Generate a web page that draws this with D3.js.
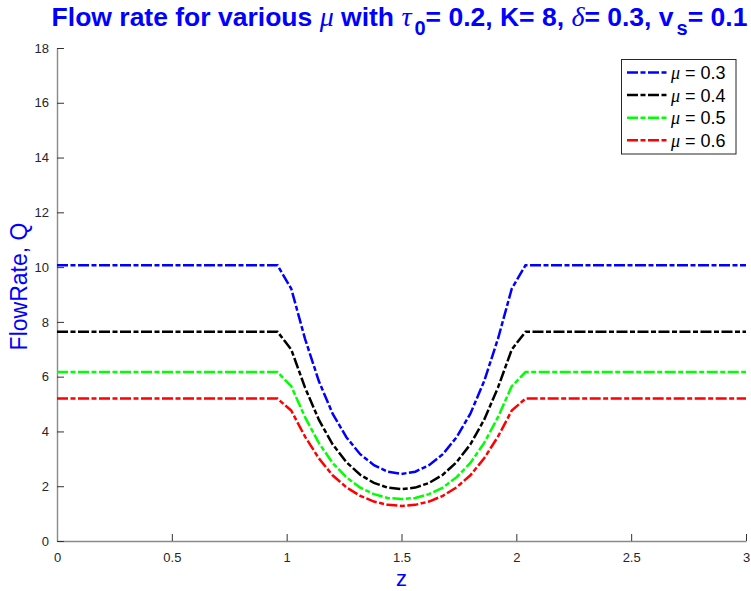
<!DOCTYPE html>
<html>
<head>
<meta charset="utf-8">
<script src="https://cdn.jsdelivr.net/npm/d3@7"></script>
<style>
  html, body { margin: 0; padding: 0; background: #fff; }
  svg { display: block; }
</style>
</head>
<body>
<svg id="chart" width="751" height="591"></svg>
<script>
// ---- data ----
const zValues = [0, 0.96, 1.02, 1.08, 1.14, 1.2, 1.26, 1.32, 1.38, 1.44, 1.5,
                 1.56, 1.62, 1.68, 1.74, 1.8, 1.86, 1.92, 1.98, 2.04, 3];
const qMu03 = [10.07, 10.07, 9.21, 7.38, 5.84, 4.65, 3.79, 3.17, 2.77, 2.53, 2.45,
               2.53, 2.77, 3.17, 3.79, 4.65, 5.84, 7.38, 9.21, 10.07, 10.07];
const qMu04 = [7.64, 7.64, 6.99, 5.60, 4.43, 3.53, 2.88, 2.42, 2.12, 1.95, 1.89,
               1.95, 2.12, 2.42, 2.88, 3.53, 4.43, 5.60, 6.99, 7.64, 7.64];
const qMu05 = [6.17, 6.17, 5.65, 4.52, 3.58, 2.85, 2.33, 1.95, 1.71, 1.57, 1.53,
               1.57, 1.71, 1.95, 2.33, 2.85, 3.58, 4.52, 5.65, 6.17, 6.17];
const qMu06 = [5.2, 5.2, 4.76, 3.81, 3.02, 2.40, 1.96, 1.65, 1.44, 1.32, 1.28,
               1.32, 1.44, 1.65, 1.96, 2.40, 3.02, 3.81, 4.76, 5.2, 5.2];
const muLabels = ["0.3", "0.4", "0.5", "0.6"];
const seriesColors = ["#0000ff", "#000000", "#00ff00", "#ff0000"];
const xTicks = [0, 0.5, 1, 1.5, 2, 2.5, 3];
const yTicks = [0, 2, 4, 6, 8, 10, 12, 14, 16, 18];

(function draw() {
const series = [qMu03, qMu04, qMu05, qMu06].map((q, i) => ({
  label: muLabels[i], color: seriesColors[i],
  points: zValues.map((z, j) => ({ z: z, q: q[j] }))
}));

// ---- layout ----
const svg = d3.select("#chart");
const mLeft = 57, mRight = 746, mTop = 48, mBottom = 541;
const x = d3.scaleLinear().domain([0, 3]).range([mLeft, mRight]);
const y = d3.scaleLinear().domain([0, 18]).range([mBottom, mTop]);
const dash = "11,2.5,5,2.5";
const sansFont = "'Liberation Sans', Arial, Helvetica, sans-serif";
const serifFont = "'Liberation Serif', 'DejaVu Serif', serif";

// axes
const xAxis = d3.axisBottom(x).tickValues(xTicks).tickSizeInner(-7).tickSizeOuter(0)
  .tickPadding(12).tickFormat(d3.format("~g"));
const yAxis = d3.axisLeft(y).tickValues(yTicks).tickSizeInner(-7).tickSizeOuter(0)
  .tickPadding(8).tickFormat(d3.format("~g"));

const gx = svg.append("g").attr("transform", `translate(0,${mBottom})`).call(xAxis);
const gy = svg.append("g").attr("transform", `translate(${mLeft},0)`).call(yAxis);
[gx, gy].forEach(g => {
  g.select(".domain").attr("stroke", "#8a8a8a").attr("stroke-width", 1.4);
  g.selectAll(".tick line").attr("stroke", "#333").attr("stroke-width", 1);
  g.selectAll(".tick text").attr("fill", "#262626")
    .style("font-family", sansFont).style("font-size", "13px");
});

// lines
const line = d3.line().x(d => x(d.z)).y(d => y(d.q));
svg.append("g").selectAll("path").data(series).join("path")
  .attr("d", d => line(d.points))
  .attr("fill", "none")
  .attr("stroke", d => d.color)
  .attr("stroke-width", 2.5)
  .attr("stroke-dasharray", dash);

// title
const title = svg.append("text").attr("x", (mLeft + mRight) / 2 - 2).attr("y", 26)
  .attr("text-anchor", "middle")
  .attr("fill", "#0000ff").style("font-family", sansFont)
  .style("font-size", "26.5px").style("font-weight", "bold");
const parts = [
  { t: "Flow rate for various " },
  { t: "μ", serif: true },
  { t: " with " },
  { t: "τ", serif: true },
  { t: "0", sub: true },
  { t: "= 0.2, K= 8, " },
  { t: "δ", serif: true },
  { t: "= 0.3, v" },
  { t: "s", sub: true },
  { t: "= 0.1" }
];
parts.forEach((p, i) => {
  const ts = title.append("tspan").text(p.t);
  if (p.serif) ts.style("font-family", serifFont).style("font-style", "italic")
    .style("font-weight", "normal").style("font-size", "28px");
  if (p.sub) ts.attr("dy", 9).attr("dx", 3).style("font-size", "20px");
  else if (i > 0 && parts[i - 1].sub) ts.attr("dy", -9);
});

// axis labels
svg.append("text").attr("x", (mLeft + mRight) / 2).attr("y", 586)
  .attr("text-anchor", "middle").attr("fill", "#0000ff")
  .style("font-family", sansFont).style("font-size", "22px").text("z");
svg.append("text")
  .attr("transform", `translate(27,${(mTop + mBottom) / 2 - 8}) rotate(-90)`)
  .attr("text-anchor", "middle").attr("fill", "#0000ff")
  .style("font-family", sansFont).style("font-size", "23px").text("FlowRate, Q");

// legend
const lg = svg.append("g");
lg.append("rect").attr("x", 621.5).attr("y", 59.5).attr("width", 114.5).attr("height", 94.5)
  .attr("fill", "#fff").attr("stroke", "#262626").attr("stroke-width", 1);
series.forEach((s, i) => {
  const cy = 72.5 + i * 22.6;
  lg.append("line").attr("x1", 627).attr("x2", 667).attr("y1", cy).attr("y2", cy)
    .attr("stroke", s.color).attr("stroke-width", 2.5).attr("stroke-dasharray", dash);
  const t = lg.append("text").attr("x", 671).attr("y", cy + 6.5).attr("fill", "#000")
    .style("font-family", sansFont).style("font-size", "18px");
  t.append("tspan").text("μ").style("font-family", serifFont).style("font-style", "italic");
  t.append("tspan").text(" = " + s.label);
});
})();
</script>
</body>
</html>
